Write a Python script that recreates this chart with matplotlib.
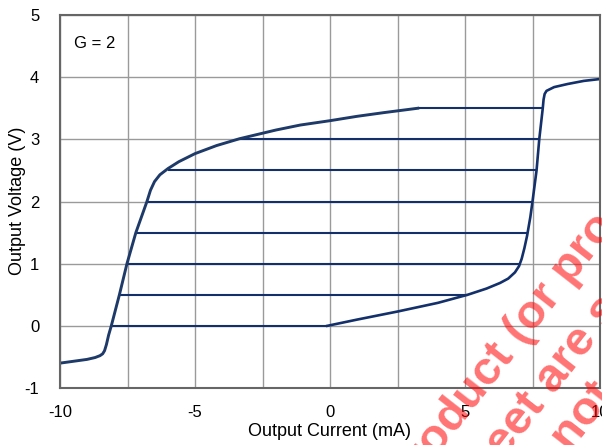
import matplotlib
matplotlib.use("Agg")
import matplotlib.pyplot as plt
from matplotlib.ticker import MultipleLocator

plt.rcParams['font.family'] = ['Liberation Sans', 'DejaVu Sans']
plt.rcParams['axes.unicode_minus'] = False

# output voltage steps (V) and where each step meets the envelopes (mA)
levels = [0.0, 0.5, 1.0, 1.5, 2.0, 2.5, 3.0, 3.5]
step_left = [-8.1, -7.8, -7.52, -7.19, -6.78, -6.0, -3.35, 3.25]
step_right = [-0.1, 5.1, 7.05, 7.3, 7.5, 7.65, 7.75, 7.88]

# left / top envelope (sinking side)
left_i = [-10.0, -9.5, -9.0, -8.7, -8.52, -8.42, -8.35, -8.28, -8.2, -8.1,
          -7.8, -7.52, -7.19, -6.78, -6.65, -6.5, -6.3, -6.0, -5.6, -5.0,
          -4.2, -3.35, -2.0, -1.1, 0.0, 1.0, 2.0, 3.25]
left_v = [-0.6, -0.57, -0.54, -0.51, -0.48, -0.45, -0.4, -0.3, -0.15, 0.0,
          0.5, 1.0, 1.5, 2.0, 2.18, 2.32, 2.43, 2.53, 2.64, 2.77,
          2.9, 3.01, 3.15, 3.23, 3.3, 3.37, 3.43, 3.5]

# right / bottom envelope (sourcing side)
right_i = [-0.1, 1.0, 2.5, 4.0, 5.1, 5.8, 6.3, 6.6, 6.85, 7.0, 7.1, 7.2, 7.3,
           7.42, 7.5, 7.65, 7.75, 7.88, 7.91, 7.95, 8.02, 8.3, 8.8, 9.4, 10.0]
right_v = [0.0, 0.1, 0.23, 0.37, 0.5, 0.6, 0.69, 0.76, 0.86, 0.96, 1.08, 1.25,
           1.45, 1.75, 2.0, 2.5, 3.0, 3.5, 3.64, 3.73, 3.78, 3.84, 3.89, 3.94,
           3.97]

watermark = ["product (or process)", "sheet are subject", "not necessarily"]

fig = plt.figure(figsize=(6.02, 4.45), dpi=100)
ax = fig.add_axes([60 / 602, 1 - 388 / 445, 540 / 602, 373 / 445])

line_col = '#13306a'
for v, a, b in zip(levels, step_left, step_right):
    ax.plot([a, b], [v, v], color=line_col, lw=1.5, solid_capstyle='butt')
ax.plot(left_i, left_v, color='#1e3a68', lw=2.1, solid_joinstyle='round')
ax.plot(right_i, right_v, color='#13306a', lw=1.9, solid_joinstyle='round')

ax.set_xlim(-10, 10)
ax.set_ylim(-1, 5)
ax.xaxis.set_major_locator(MultipleLocator(5))
ax.xaxis.set_minor_locator(MultipleLocator(2.5))
ax.yaxis.set_major_locator(MultipleLocator(1))
ax.grid(True, which='both', color='#9a9a9a', lw=1.0)
ax.set_axisbelow(True)
ax.tick_params(which='both', length=0, labelsize=12)
ax.tick_params(axis='x', pad=12)
ax.tick_params(axis='y', pad=15)
for s in ax.spines.values():
    s.set_color('#666666')
    s.set_linewidth(1.5)

ax.text(14 / 540, 1 - 28 / 373, 'G = 2', transform=ax.transAxes,
        fontsize=12, ha='left', va='center')

fig.text(330 / 602, 1 - 432 / 445, 'Output Current (mA)', fontsize=13,
         ha='center', va='center')
fig.text(18 / 602, 1 - 201 / 445, 'Output Voltage (V)', fontsize=13,
         ha='center', va='center', rotation=90)

# red draft watermark, clipped by the figure edge
starts = [(407, 495), (470, 503), (570, 453)]
for txt, (px, py) in zip(watermark, starts):
    fig.text(px / 602, 1 - py / 445, txt, fontsize=34, fontweight='bold',
             color='red', alpha=0.55, rotation=52, rotation_mode='anchor',
             ha='left', va='baseline')

plt.savefig('out.png', dpi=100)
